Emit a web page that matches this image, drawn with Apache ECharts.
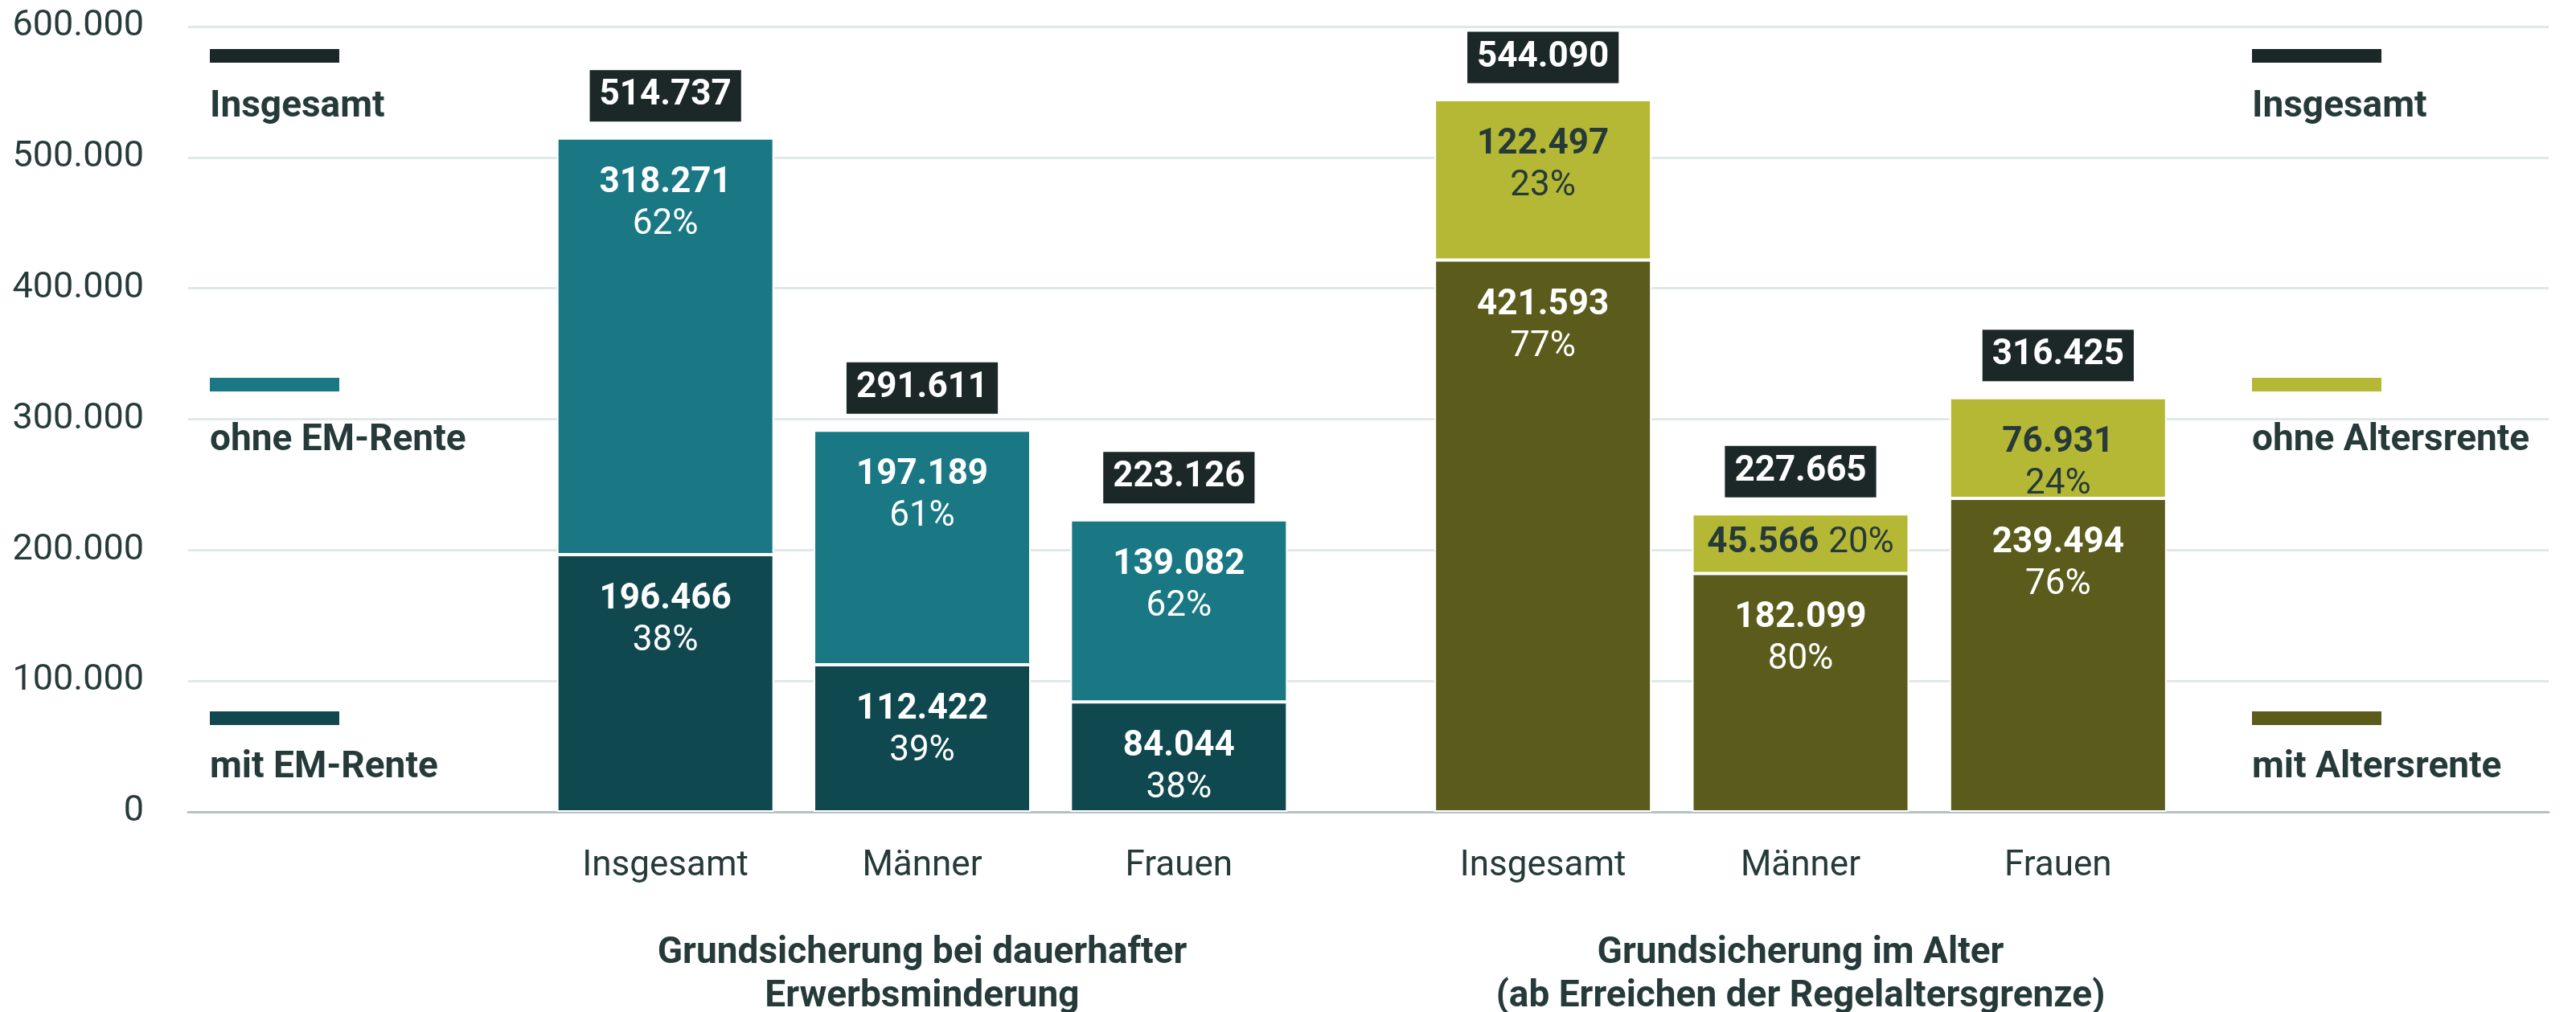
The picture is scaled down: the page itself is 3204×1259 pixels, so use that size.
<!DOCTYPE html>
<html>
<head>
<meta charset="utf-8">
<script src="https://cdn.jsdelivr.net/npm/echarts@6/dist/echarts.min.js"></script>
<style>
  html, body { margin: 0; padding: 0; background: #fff; }
  #chart { width: 3204px; height: 1259px; }
</style>
</head>
<body>
<div id="chart"></div>
<script>
// Kategorien je Gruppe
const kategorien = ["Insgesamt", "Männer", "Frauen"];

// Grundsicherung bei dauerhafter Erwerbsminderung
const mitEM = [196466, 112422, 84044];
const ohneEM = [318271, 179189, 139082];      // gezeichnete Segmenthöhe
const ohneEMText = [318271, 197189, 139082];  // so im Original beschriftet
const gesamtEM = [514737, 291611, 223126];
const pctMitEM = [38, 39, 38];
const pctOhneEM = [62, 61, 62];

// Grundsicherung im Alter
const mitAlter = [421593, 182099, 239494];
const ohneAlter = [122497, 45566, 76931];
const gesamtAlter = [544090, 227665, 316425];
const pctMitAlter = [77, 80, 76];
const pctOhneAlter = [23, 20, 24];
const einzeilig = [false, true, false]; // Beschriftung in einer Zeile (kleines Segment)

const textColor = "#263a3a";
const font = "Roboto";

const fmt = n => String(n).replace(/\B(?=(\d{3})+(?!\d))/g, ".");

const segLabel = (color, values, pcts, inline) => ({
  show: true,
  position: "insideTop",
  distance: 30,
  fontFamily: font,
  formatter: p => {
    const i = p.dataIndex;
    if (inline && inline[i]) return "{v|" + fmt(values[i]) + "}{s|}{p|" + pcts[i] + "%}";
    return "{v|" + fmt(values[i]) + "}\n{p|" + pcts[i] + "%}";
  },
  rich: {
    v: { fontFamily: font, fontSize: 44, fontWeight: "bold", lineHeight: 52, color: color },
    s: { width: 12 },
    p: { fontFamily: font, fontSize: 44, lineHeight: 52, color: color }
  }
});

const totalSeries = (idx, totals) => ({
  type: "scatter",
  xAxisIndex: idx,
  yAxisIndex: idx,
  data: totals,
  symbolSize: 1,
  itemStyle: { color: "rgba(0,0,0,0)", opacity: 1 },
  silent: true,
  z: 5,
  label: {
    show: true,
    position: "top",
    distance: 20,
    formatter: p => fmt(p.value),
    fontFamily: font,
    fontSize: 44,
    fontWeight: "bold",
    lineHeight: 46,
    color: "#fff",
    opacity: 1,
    backgroundColor: "#1c2727",
    padding: [9, 12]
  }
});

const barBase = {
  type: "bar",
  barWidth: 270,
  itemStyle: { borderColor: "#fff", borderWidth: 2 }
};

const catAxis = (idx, name) => ({
  type: "category",
  gridIndex: idx,
  data: kategorien,
  axisLine: { show: false },
  axisTick: { show: false },
  axisLabel: { fontFamily: font, fontSize: 44, color: textColor, margin: 46 },
  name: name,
  nameLocation: "middle",
  nameGap: 149,
  nameTextStyle: { fontFamily: font, fontSize: 46, fontWeight: "bold", lineHeight: 54, color: textColor }
});

const hiddenY = idx => ({ type: "value", gridIndex: idx, min: 0, max: 600000, show: false });

// Legenden (links / rechts)
const legend = (x, items) => {
  const out = [];
  items.forEach(it => {
    out.push({ type: "rect", left: x, top: it.y - 8, shape: { width: 161, height: 17 }, style: { fill: it.color } });
    out.push({
      type: "text", left: x, top: it.ty - 25,
      style: { text: it.text, fill: textColor, font: "bold 46px Roboto" }
    });
  });
  return out;
};

const legendLeft = [
  { text: "Insgesamt", color: "#1c2727", y: 69, ty: 135 },
  { text: "ohne EM-Rente", color: "#197884", y: 478, ty: 550 },
  { text: "mit EM-Rente", color: "#10484f", y: 893, ty: 957 }
];
const legendRight = [
  { text: "Insgesamt", color: "#1c2727", y: 69, ty: 135 },
  { text: "ohne Altersrente", color: "#b5b835", y: 478, ty: 550 },
  { text: "mit Altersrente", color: "#5b5c1c", y: 893, ty: 957 }
];

const gridBox = { top: 33, bottom: 249, outerBoundsMode: "none", containLabel: false };

const chart = echarts.init(document.getElementById("chart"));
chart.setOption({
  backgroundColor: "#fff",
  animation: false,
  textStyle: { fontFamily: font },
  grid: [
    Object.assign({ left: 234, right: 34 }, gridBox),
    Object.assign({ left: 668, right: 1578 }, gridBox),
    Object.assign({ left: 1759, right: 484 }, gridBox)
  ],
  xAxis: [
    {
      type: "value", gridIndex: 0, min: 0, max: 1,
      axisLine: { show: true, lineStyle: { color: "#b5c2c2", width: 3 } },
      axisLabel: { show: false }, axisTick: { show: false }, splitLine: { show: false }
    },
    catAxis(1, "Grundsicherung bei dauerhafter\nErwerbsminderung"),
    catAxis(2, "Grundsicherung im Alter\n(ab Erreichen der Regelaltersgrenze)")
  ],
  yAxis: [
    {
      type: "value", gridIndex: 0, min: 0, max: 600000, interval: 100000,
      axisLine: { show: false }, axisTick: { show: false },
      splitLine: { lineStyle: { color: "#e1e8e8", width: 3 } },
      axisLabel: { fontFamily: font, fontSize: 45, color: textColor, margin: 55, formatter: v => fmt(v) }
    },
    hiddenY(1),
    hiddenY(2)
  ],
  series: [
    Object.assign({}, barBase, {
      name: "mit EM-Rente", xAxisIndex: 1, yAxisIndex: 1, stack: "em", data: mitEM,
      itemStyle: Object.assign({}, barBase.itemStyle, { color: "#10484f" }),
      label: segLabel("#fff", mitEM, pctMitEM)
    }),
    Object.assign({}, barBase, {
      name: "ohne EM-Rente", xAxisIndex: 1, yAxisIndex: 1, stack: "em", data: ohneEM,
      itemStyle: Object.assign({}, barBase.itemStyle, { color: "#197884" }),
      label: segLabel("#fff", ohneEMText, pctOhneEM)
    }),
    Object.assign({}, barBase, {
      name: "mit Altersrente", xAxisIndex: 2, yAxisIndex: 2, stack: "alter", data: mitAlter,
      itemStyle: Object.assign({}, barBase.itemStyle, { color: "#5b5c1c" }),
      label: segLabel("#fff", mitAlter, pctMitAlter)
    }),
    Object.assign({}, barBase, {
      name: "ohne Altersrente", xAxisIndex: 2, yAxisIndex: 2, stack: "alter",
      data: ohneAlter.map((v, i) => einzeilig[i] ? { value: v, label: { position: "inside" } } : v),
      itemStyle: Object.assign({}, barBase.itemStyle, { color: "#b5b835" }),
      label: segLabel(textColor, ohneAlter, pctOhneAlter, einzeilig)
    }),
    totalSeries(1, gesamtEM),
    totalSeries(2, gesamtAlter)
  ],
  graphic: legend(261, legendLeft).concat(legend(2801, legendRight))
});
</script>
</body>
</html>
